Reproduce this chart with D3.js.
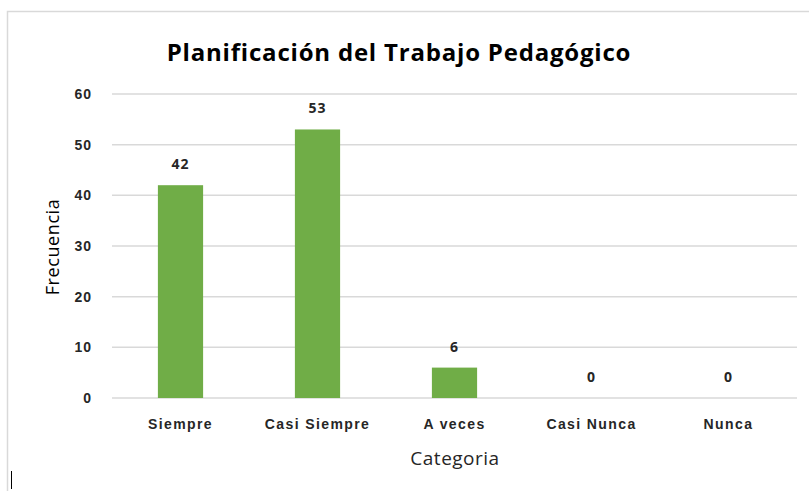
<!DOCTYPE html>
<html>
<head>
<meta charset="utf-8">
<script src="https://cdn.jsdelivr.net/npm/d3@7"></script>
<style>
  body { margin: 0; background: #fff; }
  svg { display: block; font-family: "Open Sans", "Liberation Sans", sans-serif; }
</style>
</head>
<body>
<div id="chart"></div>
<script>
// Datos
var categorias = ["Siempre", "Casi Siempre", "A veces", "Casi Nunca", "Nunca"];
var frecuencias = [42, 53, 6, 0, 0];
var yTicks = [0, 10, 20, 30, 40, 50, 60];

var W = 809, H = 491;
var margin = {top: 94, right: 12, bottom: 93, left: 112};
var width = 797 - margin.left;
var height = 398 - margin.top;

var svg = d3.select("#chart")
  .append("svg")
  .attr("width", W)
  .attr("height", H);

// Marco del grafico
svg.append("path")
  .attr("d", "M7.5," + H + " V11.5 H" + W)
  .attr("fill", "none")
  .attr("stroke", "#d9d9d9")
  .attr("stroke-width", 1.5);

// Cursor de texto abajo a la izquierda
svg.append("line")
  .attr("x1", 11.5).attr("x2", 11.5)
  .attr("y1", 471).attr("y2", 489)
  .attr("stroke", "#000").attr("stroke-width", 1);

var g = svg.append("g")
  .attr("transform", "translate(" + margin.left + "," + margin.top + ")");

var x = d3.scaleBand()
  .domain(categorias)
  .range([0, width])
  .paddingInner(0.67)
  .paddingOuter(0.335);

var y = d3.scaleLinear()
  .domain([0, 60])
  .range([height, 0]);

// Lineas de cuadricula
g.selectAll(".grid")
  .data(yTicks)
  .enter()
  .append("line")
  .attr("x1", 0)
  .attr("x2", width)
  .attr("y1", function(d) { return y(d); })
  .attr("y2", function(d) { return y(d); })
  .attr("stroke", "#d9d9d9")
  .attr("stroke-width", 1.5);

// Eje Y
var yAxis = g.append("g")
  .call(d3.axisLeft(y).tickValues(yTicks).tickSize(0).tickPadding(20));
yAxis.select(".domain").remove();
yAxis.selectAll("text")
  .style("font-size", "14px")
  .style("font-weight", "bold")
  .style("letter-spacing", "1px")
  .style("fill", "#262626");

// Eje X
var xAxis = g.append("g")
  .attr("transform", "translate(0," + height + ")")
  .call(d3.axisBottom(x).tickSize(0).tickPadding(21));
xAxis.select(".domain").remove();
xAxis.selectAll("text")
  .style("font-size", "14px")
  .style("font-weight", "600")
  .style("letter-spacing", "1.4px")
  .style("fill", "#262626");

// Barras
g.selectAll(".bar")
  .data(frecuencias)
  .enter()
  .append("rect")
  .attr("x", function(d, i) { return x(categorias[i]); })
  .attr("y", function(d) { return y(d); })
  .attr("width", x.bandwidth())
  .attr("height", function(d) { return height - y(d); })
  .attr("fill", "#70ad47");

// Etiquetas de valor
g.selectAll(".label")
  .data(frecuencias)
  .enter()
  .append("text")
  .attr("x", function(d, i) { return x(categorias[i]) + x.bandwidth() / 2; })
  .attr("y", function(d) { return y(d) - 16; })
  .attr("text-anchor", "middle")
  .style("font-size", "14px")
  .style("font-weight", "bold")
  .style("letter-spacing", "1px")
  .style("fill", "#262626")
  .text(function(d) { return d; });

// Titulo
svg.append("text")
  .attr("x", 399)
  .attr("y", 61)
  .attr("text-anchor", "middle")
  .style("font-size", "24px")
  .style("font-weight", "bold")
  .style("letter-spacing", "0.8px")
  .style("fill", "#000")
  .text("Planificación del Trabajo Pedagógico");

// Titulos de ejes
svg.append("text")
  .attr("transform", "translate(59,247) rotate(-90)")
  .attr("text-anchor", "middle")
  .style("font-size", "18px")
  .style("letter-spacing", "0.6px")
  .style("fill", "#000")
  .text("Frecuencia");

svg.append("text")
  .attr("x", 455)
  .attr("y", 465)
  .attr("text-anchor", "middle")
  .style("font-size", "19px")
  .style("letter-spacing", "0.5px")
  .style("fill", "#262626")
  .text("Categoria");
</script>
</body>
</html>
